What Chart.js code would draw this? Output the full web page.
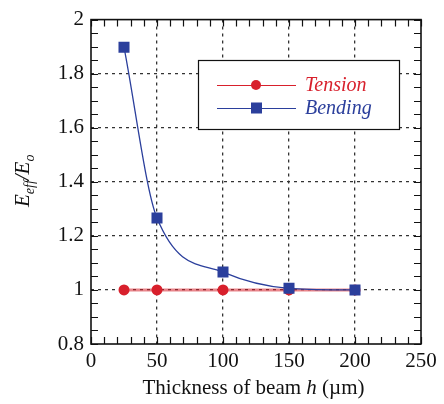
<!DOCTYPE html>
<html>
<head>
<meta charset="utf-8">
<script src="https://cdn.jsdelivr.net/npm/chart.js@4"></script>
<style>
  html, body { margin: 0; padding: 0; background: #fff; }
  #wrap { width: 444px; height: 404px; position: relative; }
</style>
</head>
<body>
<div id="wrap"><canvas id="c" width="444" height="404"></canvas></div>
<script>
// datos
const espesor = [25, 50, 100, 150, 200];
const tension = [1, 1, 1, 1, 1];
const flexion = [1.898, 1.266, 1.066, 1.006, 1.0];
const ticksX = [0, 50, 100, 150, 200, 250];
const ticksY = [0.8, 1, 1.2, 1.4, 1.6, 1.8, 2];
const etiquetas = ["Tension", "Bending"];

const rojo = "#d8202c";
const azul = "#2b3f9c";
const serif = "'Liberation Serif', 'Times New Roman', serif";

// marco, ticks internos, leyenda y títulos de ejes
const decoracion = {
  id: "decoracion",
  afterDatasetsDraw(chart) {
    const ctx = chart.ctx;
    const a = chart.chartArea;
    const sx = chart.scales.x, sy = chart.scales.y;
    ctx.save();
    ctx.strokeStyle = "#111";
    ctx.lineWidth = 1.2;
    // ticks menores y mayores hacia dentro
    for (let v = 0; v <= 250; v += 10) {
      const px = Math.round(sx.getPixelForValue(v)) + 0.5;
      ctx.beginPath();
      ctx.moveTo(px, a.bottom); ctx.lineTo(px, a.bottom - 7);
      ctx.moveTo(px, a.top); ctx.lineTo(px, a.top + 7);
      ctx.stroke();
    }
    for (let i = 0; i <= 24; i++) {
      const v = 0.8 + i * 0.05;
      const py = Math.round(sy.getPixelForValue(v)) + 0.5;
      ctx.beginPath();
      ctx.moveTo(a.left, py); ctx.lineTo(a.left + 7, py);
      ctx.moveTo(a.right, py); ctx.lineTo(a.right - 7, py);
      ctx.stroke();
    }
    ctx.lineWidth = 1.6;
    ctx.strokeRect(a.left, a.top, a.right - a.left, a.bottom - a.top);

    // leyenda
    const lx = 198, ly = 60, lw = 201, lh = 69;
    ctx.fillStyle = "#fff";
    ctx.fillRect(lx, ly, lw, lh);
    ctx.lineWidth = 1.2;
    ctx.strokeStyle = "#111";
    ctx.strokeRect(lx + 0.5, ly + 0.5, lw, lh);
    const filas = [
      { y: 85, color: rojo, texto: etiquetas[0], forma: "circle" },
      { y: 108, color: azul, texto: etiquetas[1], forma: "rect" }
    ];
    filas.forEach(f => {
      ctx.strokeStyle = f.color;
      ctx.lineWidth = 1.2;
      ctx.beginPath();
      ctx.moveTo(217, f.y + 0.5); ctx.lineTo(296, f.y + 0.5);
      ctx.stroke();
      ctx.fillStyle = f.color;
      if (f.forma === "circle") {
        ctx.beginPath(); ctx.arc(256, f.y, 5, 0, Math.PI * 2); ctx.fill();
      } else {
        ctx.fillRect(251, f.y - 5.5, 11, 11);
      }
      ctx.font = "italic 20px " + serif;
      ctx.textBaseline = "middle";
      ctx.textAlign = "left";
      ctx.fillText(f.texto, 305, f.y + 1);
    });

    // título eje x
    ctx.fillStyle = "#111";
    ctx.textBaseline = "alphabetic";
    const partes = [
      { t: "Thickness of beam ", f: "21px " + serif },
      { t: "h", f: "italic 21px " + serif },
      { t: " (\u00b5m)", f: "21px " + serif }
    ];
    let total = 0;
    partes.forEach(p => { ctx.font = p.f; total += ctx.measureText(p.t).width; });
    let x0 = 253.5 - total / 2;
    partes.forEach(p => { ctx.font = p.f; ctx.fillText(p.t, x0, 394); x0 += ctx.measureText(p.t).width; });

    // título eje y: E_eff / E_o
    ctx.translate(29, (a.top + a.bottom) / 2 - 1);
    ctx.rotate(-Math.PI / 2);
    const py = [
      { t: "E", f: "italic 21px " + serif, dy: 0 },
      { t: "eff", f: "italic 14px " + serif, dy: 5 },
      { t: "/", f: "italic 21px " + serif, dy: 0 },
      { t: "E", f: "italic 21px " + serif, dy: 0 },
      { t: "o", f: "italic 14px " + serif, dy: 5 }
    ];
    let tw = 0;
    py.forEach(p => { ctx.font = p.f; tw += ctx.measureText(p.t).width; });
    let yx = -tw / 2;
    py.forEach(p => { ctx.font = p.f; ctx.fillText(p.t, yx, p.dy); yx += ctx.measureText(p.t).width; });
    ctx.restore();
  }
};

const ctx = document.getElementById("c").getContext("2d");
new Chart(ctx, {
  type: "scatter",
  data: {
    datasets: [
      {
        label: etiquetas[0],
        data: espesor.map((h, i) => ({ x: h, y: tension[i] })),
        showLine: true,
        borderColor: "rgba(216,32,44,0.55)",
        borderWidth: 3,
        backgroundColor: rojo,
        pointBackgroundColor: rojo,
        pointBorderWidth: 0,
        pointRadius: 5.5,
        pointStyle: "circle",
        order: 2
      },
      {
        label: etiquetas[1],
        data: espesor.map((h, i) => ({ x: h, y: flexion[i] })),
        showLine: true,
        cubicInterpolationMode: "monotone",
        borderColor: azul,
        borderWidth: 1.3,
        backgroundColor: azul,
        pointBackgroundColor: azul,
        pointBorderWidth: 0,
        pointRadius: 7.8,
        pointStyle: "rect",
        order: 1
      }
    ]
  },
  options: {
    responsive: false,
    animation: false,
    devicePixelRatio: 1,
    layout: { padding: { top: 15, right: 23, left: 0, bottom: 0 } },
    plugins: { legend: { display: false }, tooltip: { enabled: false } },
    scales: {
      x: {
        type: "linear",
        min: 0, max: 250,
        afterBuildTicks: s => { s.ticks = ticksX.map(v => ({ value: v })); },
        afterFit: s => { s.height = 60; },
        ticks: { color: "#111", font: { family: serif, size: 21 }, padding: 5, maxRotation: 0 },
        grid: {
          drawTicks: false,
          color: ctx => (ctx.tick && (ctx.tick.value === 0 || ctx.tick.value === 250)) ? "rgba(0,0,0,0)" : "#333",
          lineWidth: 1.3
        },
        border: { display: false, dash: [3, 4] }
      },
      y: {
        type: "linear",
        min: 0.8, max: 2,
        afterBuildTicks: s => { s.ticks = ticksY.map(v => ({ value: v })); },
        afterFit: s => { s.width = 91; },
        ticks: { color: "#111", font: { family: serif, size: 21 }, padding: 7,
          callback: v => String(Math.round(v * 10) / 10) },
        grid: {
          drawTicks: false,
          color: ctx => (ctx.tick && (ctx.tick.value === 0.8 || ctx.tick.value === 2)) ? "rgba(0,0,0,0)" : "#333",
          lineWidth: 1.3
        },
        border: { display: false, dash: [3, 4] }
      }
    }
  },
  plugins: [decoracion]
});
</script>
</body>
</html>
